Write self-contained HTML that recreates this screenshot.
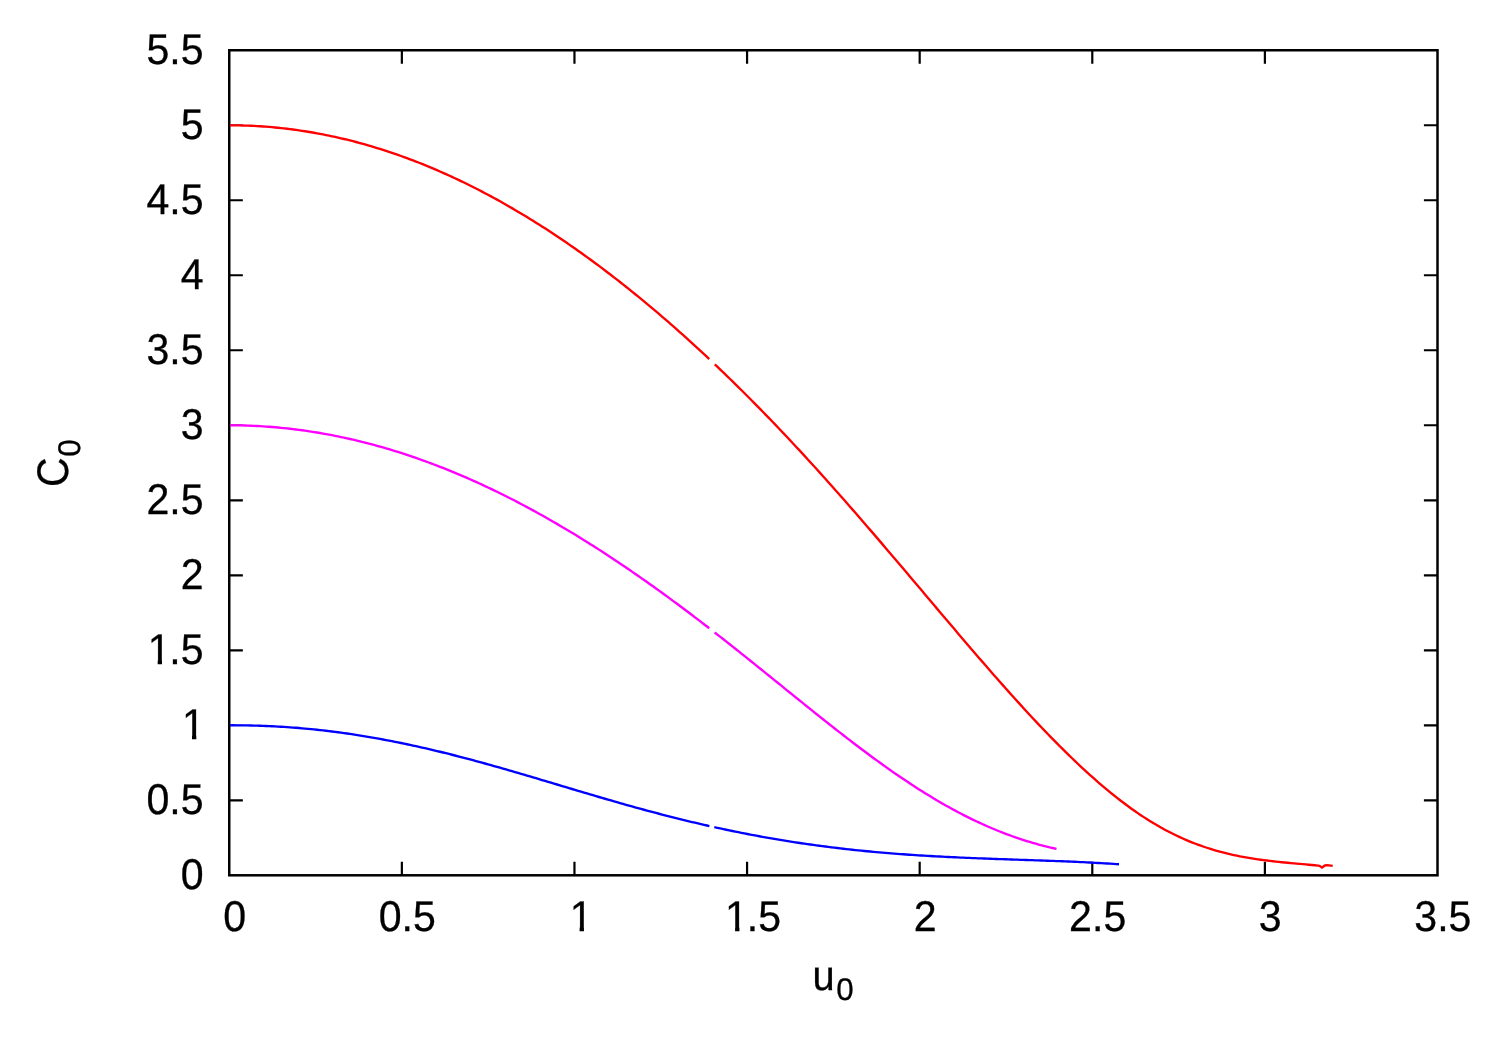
<!DOCTYPE html>
<html><head><meta charset="utf-8"><title>C0 vs u0</title>
<style>html,body{margin:0;padding:0;background:#fff;}body{width:1500px;height:1050px;overflow:hidden;font-family:"Liberation Sans",sans-serif;}</style></head>
<body>
<svg width="1500" height="1050" viewBox="0 0 1500 1050" style="display:block;will-change:transform">
<rect width="1500" height="1050" fill="#fff"/>
<path d="M229.25,725.29H242.85M229.25,425.27H242.85M229.25,125.25H242.85" stroke="#000" stroke-width="1.3" fill="none"/>
<path d="M401.86,875.30V861.70M401.86,50.25V63.85M574.46,875.30V861.70M574.46,50.25V63.85M747.07,875.30V861.70M747.07,50.25V63.85M919.68,875.30V861.70M919.68,50.25V63.85M1092.29,875.30V861.70M1092.29,50.25V63.85M1264.89,875.30V861.70M1264.89,50.25V63.85M1437.50,800.30H1423.90M229.25,800.30H242.85M1437.50,725.29H1423.90M1437.50,650.29H1423.90M229.25,650.29H242.85M1437.50,575.28H1423.90M229.25,575.28H242.85M1437.50,500.28H1423.90M229.25,500.28H242.85M1437.50,425.27H1423.90M1437.50,350.27H1423.90M229.25,350.27H242.85M1437.50,275.26H1423.90M229.25,275.26H242.85M1437.50,200.26H1423.90M229.25,200.26H242.85M1437.50,125.25H1423.90" stroke="#000" stroke-width="2.2" fill="none" stroke-linecap="butt"/>
<rect x="229.25" y="50.25" width="1208.25" height="825.05" fill="none" stroke="#000" stroke-width="2.5" stroke-linejoin="miter"/>
<defs><clipPath id="k1"><path d="M-4,-42.6 H42.6 V-4.28 H14.83 V3 H10.36 V-4.28 H-4 Z"/></clipPath></defs>
<g font-family="'Liberation Sans', sans-serif" fill="#000" stroke="#000" stroke-width="0.3" text-rendering="geometricPrecision">
<text transform="translate(223.22,931.30) scale(0.965,1.01)" font-size="42.6">0</text>
<text transform="translate(378.68,931.30) scale(0.965,1.01)" font-size="42.6">0.5</text>
<text transform="translate(569.63,931.30) scale(0.965,1.01)" font-size="42.6" clip-path="url(#k1)">1</text>
<text transform="translate(725.10,931.30) scale(0.965,1.01)" font-size="42.6" clip-path="url(#k1)">1</text><text transform="translate(746.76,931.30) scale(0.965,1.01)" font-size="42.6">.5</text>
<text transform="translate(913.65,931.30) scale(0.965,1.01)" font-size="42.6">2</text>
<text transform="translate(1069.11,931.30) scale(0.965,1.01)" font-size="42.6">2.5</text>
<text transform="translate(1258.86,931.30) scale(0.965,1.01)" font-size="42.6">3</text>
<text transform="translate(1414.33,931.30) scale(0.965,1.01)" font-size="42.6">3.5</text>
<text transform="translate(180.79,888.80) scale(0.965,1.01)" font-size="42.6">0</text>
<text transform="translate(146.50,813.80) scale(0.965,1.01)" font-size="42.6">0.5</text>
<text transform="translate(181.99,738.79) scale(0.965,1.01)" font-size="42.6" clip-path="url(#k1)">1</text>
<text transform="translate(147.70,663.79) scale(0.965,1.01)" font-size="42.6" clip-path="url(#k1)">1</text><text transform="translate(169.37,663.79) scale(0.965,1.01)" font-size="42.6">.5</text>
<text transform="translate(180.79,588.78) scale(0.965,1.01)" font-size="42.6">2</text>
<text transform="translate(146.50,513.78) scale(0.965,1.01)" font-size="42.6">2.5</text>
<text transform="translate(180.79,438.77) scale(0.965,1.01)" font-size="42.6">3</text>
<text transform="translate(146.50,363.77) scale(0.965,1.01)" font-size="42.6">3.5</text>
<text transform="translate(180.79,288.76) scale(0.965,1.01)" font-size="42.6">4</text>
<text transform="translate(146.50,213.76) scale(0.965,1.01)" font-size="42.6">4.5</text>
<text transform="translate(180.79,138.75) scale(0.965,1.01)" font-size="42.6">5</text>
<text transform="translate(146.50,63.75) scale(0.965,1.01)" font-size="42.6">5.5</text>
<text transform="translate(812.50,989.80) scale(0.935,0.993)" font-size="42.6">u</text>
<text transform="translate(836.20,999.90) scale(0.98,0.977)" font-size="32">0</text>
<text transform="translate(67.80,487.00) rotate(-90) scale(0.963,1.037)" font-size="42.6">C</text>
<text transform="translate(79.60,456.70) rotate(-90) scale(0.98,0.977)" font-size="32">0</text>
</g>
<path d="M230.0,125.30 L233.0,125.31 L236.0,125.34 L239.0,125.39 L242.0,125.46 L245.0,125.55 L248.0,125.66 L251.0,125.78 L254.0,125.93 L257.0,126.09 L260.0,126.27 L263.0,126.47 L266.0,126.69 L269.0,126.93 L272.0,127.19 L275.0,127.46 L278.0,127.76 L281.0,128.07 L284.0,128.40 L287.0,128.75 L290.0,129.12 L293.0,129.51 L296.0,129.92 L299.0,130.34 L302.0,130.79 L305.0,131.25 L308.0,131.74 L311.0,132.24 L314.0,132.76 L317.0,133.30 L320.0,133.86 L323.0,134.43 L326.0,135.03 L329.0,135.64 L332.0,136.28 L335.0,136.93 L338.0,137.60 L341.0,138.29 L344.0,138.99 L347.0,139.72 L350.0,140.47 L353.0,141.23 L356.0,142.01 L359.0,142.82 L362.0,143.64 L365.0,144.48 L368.0,145.33 L371.0,146.21 L374.0,147.10 L377.0,148.02 L380.0,148.95 L383.0,149.90 L386.0,150.87 L389.0,151.86 L392.0,152.87 L395.0,153.89 L398.0,154.93 L401.0,156.00 L404.0,157.08 L407.0,158.18 L410.0,159.29 L413.0,160.43 L416.0,161.58 L419.0,162.76 L422.0,163.95 L425.0,165.16 L428.0,166.39 L431.0,167.63 L434.0,168.90 L437.0,170.18 L440.0,171.48 L443.0,172.80 L446.0,174.14 L449.0,175.49 L452.0,176.87 L455.0,178.26 L458.0,179.67 L461.0,181.10 L464.0,182.55 L467.0,184.01 L470.0,185.49 L473.0,187.00 L476.0,188.51 L479.0,190.05 L482.0,191.61 L485.0,193.18 L488.0,194.77 L491.0,196.38 L494.0,198.00 L497.0,199.65 L500.0,201.31 L503.0,202.99 L506.0,204.69 L509.0,206.40 L512.0,208.14 L515.0,209.89 L518.0,211.66 L521.0,213.44 L524.0,215.24 L527.0,217.07 L530.0,218.90 L533.0,220.76 L536.0,222.63 L539.0,224.52 L542.0,226.43 L545.0,228.36 L548.0,230.30 L551.0,232.26 L554.0,234.23 L557.0,236.23 L560.0,238.24 L563.0,240.27 L566.0,242.31 L569.0,244.38 L572.0,246.46 L575.0,248.55 L578.0,250.67 L581.0,252.80 L584.0,254.94 L587.0,257.11 L590.0,259.29 L593.0,261.48 L596.0,263.70 L599.0,265.93 L602.0,268.18 L605.0,270.44 L608.0,272.72 L611.0,275.02 L614.0,277.33 L617.0,279.66 L620.0,282.00 L623.0,284.37 L626.0,286.75 L629.0,289.14 L632.0,291.55 L635.0,293.98 L638.0,296.42 L641.0,298.88 L644.0,301.36 L647.0,303.85 L650.0,306.35 L653.0,308.88 L656.0,311.42 L659.0,313.97 L662.0,316.54 L665.0,319.13 L668.0,321.73 L671.0,324.35 L674.0,326.98 L677.0,329.63 L680.0,332.29 L683.0,334.97 L686.0,337.66 L689.0,340.37 L692.0,343.10 L695.0,345.84 L698.0,348.60 L701.0,351.37 L704.0,354.15 L707.0,356.95 L709.2,359.02 M714.8,364.31 L717.8,367.16 L720.8,370.03 L723.8,372.91 L726.8,375.81 L729.8,378.73 L732.8,381.66 L735.8,384.60 L738.8,387.56 L741.8,390.53 L744.8,393.51 L747.8,396.51 L750.8,399.53 L753.8,402.56 L756.8,405.60 L759.8,408.66 L762.8,411.73 L765.8,414.82 L768.8,417.92 L771.8,421.03 L774.8,424.16 L777.8,427.30 L780.8,430.45 L783.8,433.62 L786.8,436.80 L789.8,440.00 L792.8,443.21 L795.8,446.43 L798.8,449.66 L801.8,452.91 L804.8,456.17 L807.8,459.44 L810.8,462.72 L813.8,466.02 L816.8,469.32 L819.8,472.64 L822.8,475.97 L825.8,479.32 L828.8,482.67 L831.8,486.03 L834.8,489.41 L837.8,492.79 L840.8,496.19 L843.8,499.59 L846.8,503.01 L849.8,506.43 L852.8,509.86 L855.8,513.30 L858.8,516.75 L861.8,520.21 L864.8,523.68 L867.8,527.15 L870.8,530.63 L873.8,534.12 L876.8,537.62 L879.8,541.12 L882.8,544.63 L885.8,548.14 L888.8,551.66 L891.8,555.18 L894.8,558.71 L897.8,562.24 L900.8,565.78 L903.8,569.32 L906.8,572.86 L909.8,576.41 L912.8,579.95 L915.8,583.50 L918.8,587.05 L921.8,590.61 L924.8,594.16 L927.8,597.71 L930.8,601.26 L933.8,604.82 L936.8,608.37 L939.8,611.91 L942.8,615.46 L945.8,619.00 L948.8,622.54 L951.8,626.08 L954.8,629.61 L957.8,633.14 L960.8,636.66 L963.8,640.18 L966.8,643.69 L969.8,647.20 L972.8,650.69 L975.8,654.18 L978.8,657.66 L981.8,661.13 L984.8,664.59 L987.8,668.04 L990.8,671.48 L993.8,674.91 L996.8,678.33 L999.8,681.74 L1002.8,685.13 L1005.8,688.50 L1008.8,691.87 L1011.8,695.22 L1014.8,698.55 L1017.8,701.86 L1020.8,705.16 L1023.8,708.44 L1026.8,711.71 L1029.8,714.95 L1032.8,718.18 L1035.8,721.38 L1038.8,724.57 L1041.8,727.73 L1044.8,730.87 L1047.8,733.98 L1050.8,737.08 L1053.8,740.15 L1056.8,743.19 L1059.8,746.21 L1062.8,749.20 L1065.8,752.16 L1068.8,755.10 L1071.8,758.01 L1074.8,760.89 L1077.8,763.73 L1080.8,766.55 L1083.8,769.34 L1086.8,772.09 L1089.8,774.81 L1092.8,777.49 L1095.8,780.14 L1098.8,782.76 L1101.8,785.33 L1104.8,787.88 L1107.8,790.38 L1110.8,792.84 L1113.8,795.27 L1116.8,797.65 L1119.8,799.99 L1122.8,802.29 L1125.8,804.55 L1128.8,806.76 L1131.8,808.93 L1134.8,811.05 L1137.8,813.13 L1140.8,815.16 L1143.8,817.14 L1146.8,819.07 L1149.8,820.96 L1152.8,822.80 L1155.8,824.59 L1158.8,826.33 L1161.8,828.03 L1164.8,829.67 L1167.8,831.27 L1170.8,832.81 L1173.8,834.31 L1176.8,835.77 L1179.8,837.17 L1182.8,838.53 L1185.8,839.84 L1188.8,841.10 L1191.8,842.32 L1194.8,843.50 L1197.8,844.63 L1200.8,845.71 L1203.8,846.76 L1206.8,847.76 L1209.8,848.72 L1212.8,849.64 L1215.8,850.52 L1218.8,851.37 L1221.8,852.17 L1224.8,852.95 L1227.8,853.68 L1230.8,854.38 L1233.8,855.05 L1236.8,855.68 L1239.8,856.29 L1242.8,856.86 L1245.8,857.41 L1248.8,857.93 L1251.8,858.42 L1254.8,858.89 L1257.8,859.33 L1260.8,859.75 L1263.8,860.15 L1266.8,860.54 L1269.8,860.90 L1272.8,861.25 L1275.8,861.58 L1278.8,861.90 L1281.8,862.21 L1284.8,862.50 L1287.8,862.79 L1290.8,863.07 L1293.8,863.35 L1296.8,863.62 L1299.8,863.90 L1302.8,864.17 L1305.8,864.44 L1308.8,864.72 L1311.8,865.00 L1314.8,865.29 L1317.8,865.59 L1318.5,865.66 L1320.0,866.10 L1322.0,867.70 L1324.8,865.50 L1327.0,865.20 L1332.7,865.80" stroke="#f00" stroke-width="2.35" fill="none" stroke-linejoin="round" stroke-linecap="butt"/>
<path d="M230.0,425.30 L233.0,425.31 L236.0,425.34 L239.0,425.39 L242.0,425.45 L245.0,425.53 L248.0,425.63 L251.0,425.74 L254.0,425.87 L257.0,426.02 L260.0,426.18 L263.0,426.36 L266.0,426.56 L269.0,426.78 L272.0,427.01 L275.0,427.26 L278.0,427.53 L281.0,427.81 L284.0,428.11 L287.0,428.43 L290.0,428.76 L293.0,429.11 L296.0,429.48 L299.0,429.86 L302.0,430.27 L305.0,430.68 L308.0,431.12 L311.0,431.57 L314.0,432.04 L317.0,432.53 L320.0,433.03 L323.0,433.55 L326.0,434.09 L329.0,434.64 L332.0,435.21 L335.0,435.80 L338.0,436.41 L341.0,437.03 L344.0,437.66 L347.0,438.32 L350.0,438.99 L353.0,439.68 L356.0,440.38 L359.0,441.10 L362.0,441.84 L365.0,442.60 L368.0,443.37 L371.0,444.16 L374.0,444.96 L377.0,445.78 L380.0,446.62 L383.0,447.47 L386.0,448.34 L389.0,449.23 L392.0,450.13 L395.0,451.05 L398.0,451.99 L401.0,452.94 L404.0,453.91 L407.0,454.89 L410.0,455.89 L413.0,456.91 L416.0,457.94 L419.0,458.99 L422.0,460.06 L425.0,461.14 L428.0,462.23 L431.0,463.35 L434.0,464.48 L437.0,465.62 L440.0,466.78 L443.0,467.96 L446.0,469.15 L449.0,470.36 L452.0,471.58 L455.0,472.82 L458.0,474.08 L461.0,475.35 L464.0,476.63 L467.0,477.93 L470.0,479.25 L473.0,480.58 L476.0,481.93 L479.0,483.29 L482.0,484.67 L485.0,486.06 L488.0,487.47 L491.0,488.90 L494.0,490.33 L497.0,491.79 L500.0,493.25 L503.0,494.74 L506.0,496.23 L509.0,497.75 L512.0,499.27 L515.0,500.81 L518.0,502.37 L521.0,503.94 L524.0,505.53 L527.0,507.12 L530.0,508.74 L533.0,510.37 L536.0,512.01 L539.0,513.66 L542.0,515.33 L545.0,517.02 L548.0,518.71 L551.0,520.43 L554.0,522.15 L557.0,523.89 L560.0,525.64 L563.0,527.41 L566.0,529.19 L569.0,530.98 L572.0,532.79 L575.0,534.61 L578.0,536.44 L581.0,538.29 L584.0,540.15 L587.0,542.02 L590.0,543.90 L593.0,545.80 L596.0,547.71 L599.0,549.63 L602.0,551.57 L605.0,553.52 L608.0,555.48 L611.0,557.45 L614.0,559.44 L617.0,561.43 L620.0,563.44 L623.0,565.46 L626.0,567.50 L629.0,569.54 L632.0,571.60 L635.0,573.67 L638.0,575.75 L641.0,577.84 L644.0,579.94 L647.0,582.06 L650.0,584.18 L653.0,586.32 L656.0,588.47 L659.0,590.62 L662.0,592.79 L665.0,594.97 L668.0,597.16 L671.0,599.36 L674.0,601.58 L677.0,603.80 L680.0,606.03 L683.0,608.27 L686.0,610.52 L689.0,612.78 L692.0,615.05 L695.0,617.33 L698.0,619.62 L701.0,621.91 L704.0,624.22 L707.0,626.53 L709.2,628.23 M714.7,632.50 L717.7,634.84 L720.7,637.19 L723.7,639.54 L726.7,641.91 L729.7,644.27 L732.7,646.65 L735.7,649.03 L738.7,651.41 L741.7,653.80 L744.7,656.20 L747.7,658.60 L750.7,661.00 L753.7,663.41 L756.7,665.82 L759.7,668.23 L762.7,670.65 L765.7,673.07 L768.7,675.49 L771.7,677.92 L774.7,680.34 L777.7,682.77 L780.7,685.19 L783.7,687.62 L786.7,690.05 L789.7,692.47 L792.7,694.90 L795.7,697.32 L798.7,699.74 L801.7,702.16 L804.7,704.58 L807.7,706.99 L810.7,709.40 L813.7,711.81 L816.7,714.21 L819.7,716.60 L822.7,718.99 L825.7,721.37 L828.7,723.75 L831.7,726.12 L834.7,728.48 L837.7,730.83 L840.7,733.17 L843.7,735.51 L846.7,737.83 L849.7,740.14 L852.7,742.45 L855.7,744.74 L858.7,747.02 L861.7,749.28 L864.7,751.53 L867.7,753.77 L870.7,755.99 L873.7,758.20 L876.7,760.39 L879.7,762.57 L882.7,764.73 L885.7,766.87 L888.7,769.00 L891.7,771.10 L894.7,773.19 L897.7,775.26 L900.7,777.31 L903.7,779.34 L906.7,781.34 L909.7,783.33 L912.7,785.30 L915.7,787.24 L918.7,789.16 L921.7,791.06 L924.7,792.94 L927.7,794.79 L930.7,796.62 L933.7,798.43 L936.7,800.21 L939.7,801.97 L942.7,803.70 L945.7,805.40 L948.7,807.08 L951.7,808.74 L954.7,810.37 L957.7,811.97 L960.7,813.54 L963.7,815.09 L966.7,816.61 L969.7,818.10 L972.7,819.57 L975.7,821.00 L978.7,822.41 L981.7,823.79 L984.7,825.15 L987.7,826.47 L990.7,827.76 L993.7,829.03 L996.7,830.27 L999.7,831.48 L1002.7,832.65 L1005.7,833.80 L1008.7,834.93 L1011.7,836.02 L1014.7,837.08 L1017.7,838.11 L1020.7,839.12 L1023.7,840.09 L1026.7,841.04 L1029.7,841.96 L1032.7,842.84 L1035.7,843.70 L1038.7,844.53 L1041.7,845.34 L1044.7,846.11 L1047.7,846.86 L1050.7,847.57 L1053.7,848.26 L1056.5,848.88" stroke="#f0f" stroke-width="2.35" fill="none" stroke-linejoin="round" stroke-linecap="butt"/>
<path d="M230.0,725.30 L233.0,725.29 L236.0,725.30 L239.0,725.31 L242.0,725.34 L245.0,725.38 L248.0,725.43 L251.0,725.49 L254.0,725.56 L257.0,725.65 L260.0,725.74 L263.0,725.85 L266.0,725.97 L269.0,726.10 L272.0,726.24 L275.0,726.39 L278.0,726.56 L281.0,726.74 L284.0,726.92 L287.0,727.12 L290.0,727.34 L293.0,727.56 L296.0,727.79 L299.0,728.04 L302.0,728.30 L305.0,728.57 L308.0,728.85 L311.0,729.14 L314.0,729.44 L317.0,729.76 L320.0,730.08 L323.0,730.42 L326.0,730.77 L329.0,731.13 L332.0,731.50 L335.0,731.88 L338.0,732.27 L341.0,732.68 L344.0,733.09 L347.0,733.52 L350.0,733.96 L353.0,734.41 L356.0,734.86 L359.0,735.33 L362.0,735.81 L365.0,736.31 L368.0,736.81 L371.0,737.32 L374.0,737.84 L377.0,738.37 L380.0,738.92 L383.0,739.47 L386.0,740.03 L389.0,740.60 L392.0,741.19 L395.0,741.78 L398.0,742.38 L401.0,742.99 L404.0,743.61 L407.0,744.24 L410.0,744.88 L413.0,745.53 L416.0,746.19 L419.0,746.86 L422.0,747.53 L425.0,748.21 L428.0,748.91 L431.0,749.61 L434.0,750.32 L437.0,751.03 L440.0,751.76 L443.0,752.49 L446.0,753.23 L449.0,753.98 L452.0,754.74 L455.0,755.50 L458.0,756.27 L461.0,757.05 L464.0,757.83 L467.0,758.62 L470.0,759.42 L473.0,760.22 L476.0,761.03 L479.0,761.85 L482.0,762.67 L485.0,763.50 L488.0,764.33 L491.0,765.17 L494.0,766.01 L497.0,766.86 L500.0,767.71 L503.0,768.57 L506.0,769.43 L509.0,770.29 L512.0,771.16 L515.0,772.03 L518.0,772.91 L521.0,773.79 L524.0,774.67 L527.0,775.55 L530.0,776.44 L533.0,777.33 L536.0,778.22 L539.0,779.12 L542.0,780.01 L545.0,780.91 L548.0,781.81 L551.0,782.70 L554.0,783.60 L557.0,784.50 L560.0,785.40 L563.0,786.30 L566.0,787.20 L569.0,788.10 L572.0,789.00 L575.0,789.89 L578.0,790.79 L581.0,791.68 L584.0,792.57 L587.0,793.46 L590.0,794.35 L593.0,795.24 L596.0,796.12 L599.0,797.00 L602.0,797.88 L605.0,798.75 L608.0,799.62 L611.0,800.49 L614.0,801.35 L617.0,802.21 L620.0,803.07 L623.0,803.92 L626.0,804.76 L629.0,805.61 L632.0,806.44 L635.0,807.28 L638.0,808.11 L641.0,808.93 L644.0,809.75 L647.0,810.56 L650.0,811.36 L653.0,812.17 L656.0,812.96 L659.0,813.75 L662.0,814.53 L665.0,815.31 L668.0,816.08 L671.0,816.85 L674.0,817.61 L677.0,818.36 L680.0,819.10 L683.0,819.84 L686.0,820.58 L689.0,821.30 L692.0,822.02 L695.0,822.73 L698.0,823.44 L701.0,824.14 L704.0,824.83 L707.0,825.51 L709.4,826.05 M714.3,827.15 L717.3,827.80 L720.3,828.46 L723.3,829.10 L726.3,829.74 L729.3,830.37 L732.3,830.99 L735.3,831.61 L738.3,832.21 L741.3,832.81 L744.3,833.41 L747.3,833.99 L750.3,834.57 L753.3,835.14 L756.3,835.70 L759.3,836.26 L762.3,836.80 L765.3,837.34 L768.3,837.87 L771.3,838.40 L774.3,838.91 L777.3,839.42 L780.3,839.93 L783.3,840.42 L786.3,840.91 L789.3,841.38 L792.3,841.86 L795.3,842.32 L798.3,842.77 L801.3,843.22 L804.3,843.66 L807.3,844.10 L810.3,844.52 L813.3,844.94 L816.3,845.35 L819.3,845.76 L822.3,846.15 L825.3,846.54 L828.3,846.93 L831.3,847.30 L834.3,847.67 L837.3,848.03 L840.3,848.38 L843.3,848.73 L846.3,849.07 L849.3,849.40 L852.3,849.73 L855.3,850.05 L858.3,850.36 L861.3,850.66 L864.3,850.96 L867.3,851.26 L870.3,851.54 L873.3,851.82 L876.3,852.10 L879.3,852.36 L882.3,852.62 L885.3,852.88 L888.3,853.13 L891.3,853.37 L894.3,853.61 L897.3,853.84 L900.3,854.07 L903.3,854.29 L906.3,854.50 L909.3,854.71 L912.3,854.91 L915.3,855.11 L918.3,855.31 L921.3,855.50 L924.3,855.68 L927.3,855.86 L930.3,856.04 L933.3,856.21 L936.3,856.37 L939.3,856.53 L942.3,856.69 L945.3,856.85 L948.3,857.00 L951.3,857.14 L954.3,857.28 L957.3,857.42 L960.3,857.56 L963.3,857.69 L966.3,857.82 L969.3,857.95 L972.3,858.07 L975.3,858.19 L978.3,858.31 L981.3,858.43 L984.3,858.54 L987.3,858.65 L990.3,858.76 L993.3,858.87 L996.3,858.98 L999.3,859.08 L1002.3,859.19 L1005.3,859.29 L1008.3,859.39 L1011.3,859.49 L1014.3,859.60 L1017.3,859.70 L1020.3,859.80 L1023.3,859.90 L1026.3,860.00 L1029.3,860.10 L1032.3,860.20 L1035.3,860.30 L1038.3,860.41 L1041.3,860.51 L1044.3,860.61 L1047.3,860.72 L1050.3,860.83 L1053.3,860.94 L1056.3,861.05 L1059.3,861.17 L1062.3,861.29 L1065.3,861.41 L1068.3,861.53 L1071.3,861.66 L1074.3,861.79 L1077.3,861.92 L1080.3,862.06 L1083.3,862.20 L1086.3,862.35 L1089.3,862.50 L1092.3,862.65 L1095.3,862.81 L1098.3,862.98 L1101.3,863.15 L1104.3,863.32 L1107.3,863.51 L1110.3,863.69 L1113.3,863.89 L1116.3,864.09 L1119.0,864.28" stroke="#00f" stroke-width="2.35" fill="none" stroke-linejoin="round" stroke-linecap="butt"/>
</svg>
</body></html>
